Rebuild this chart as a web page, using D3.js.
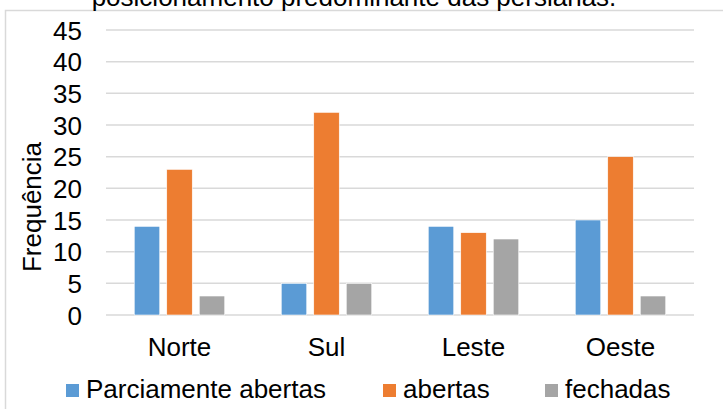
<!DOCTYPE html>
<html>
<head>
<meta charset="utf-8">
<script src="https://cdn.jsdelivr.net/npm/d3@7"></script>
<style>
  html, body { margin: 0; padding: 0; background: #fff; }
  svg { display: block; font-family: "Liberation Sans", Arial, sans-serif; }
</style>
</head>
<body>
<svg id="chart" width="723" height="409"></svg>
<script>
const categories = ["Norte", "Sul", "Leste", "Oeste"];
const seriesNames = ["Parciamente abertas", "abertas", "fechadas"];
const parciamenteAbertas = [14, 5, 14, 15];
const abertas = [23, 32, 13, 25];
const fechadas = [3, 5, 12, 3];
const yTicks = [0, 5, 10, 15, 20, 25, 30, 35, 40, 45];
const colors = ["#5b9bd5", "#ed7d31", "#a5a5a5"];
const titleText = "posicionamento predominante das persianas.";
const yTitle = "Frequência";

const seriesValues = [parciamenteAbertas, abertas, fechadas];
const data = categories.map((c, i) => ({
  cat: c,
  vals: seriesNames.map((s, j) => ({ s, v: seriesValues[j][i], j }))
}));

const svg = d3.select("#chart");
const fs = 26;

// chart frame
svg.append("rect")
  .attr("x", 5.5).attr("y", 10.5)
  .attr("width", 800).attr("height", 500)
  .attr("fill", "none").attr("stroke", "#d9d9d9").attr("stroke-width", 1.5);

// title (clipped at top, as in the reference)
svg.append("text")
  .attr("x", 354).attr("y", 6)
  .attr("text-anchor", "middle")
  .attr("font-size", fs).attr("fill", "#000")
  .text(titleText);

const x0 = d3.scaleBand().domain(categories).range([106, 694]).paddingInner(0).paddingOuter(0);
const x1 = d3.scaleBand().domain(seriesNames).range([0, x0.bandwidth()])
  .paddingInner(0.215).paddingOuter(0.869);
const y = d3.scaleLinear().domain([0, 45]).range([315, 30]);

// gridlines
svg.append("g").selectAll("line").data(yTicks).join("line")
  .attr("x1", 106).attr("x2", 694)
  .attr("y1", d => y(d)).attr("y2", d => y(d))
  .attr("stroke", "#d9d9d9").attr("stroke-width", 1.5);

// y tick labels
svg.append("g").selectAll("text").data(yTicks).join("text")
  .attr("x", 82).attr("y", d => y(d) + 9.5)
  .attr("text-anchor", "end")
  .attr("font-size", fs).attr("fill", "#000")
  .text(d => d);

// y axis title
svg.append("text")
  .attr("transform", "translate(41,207) rotate(-90)")
  .attr("text-anchor", "middle")
  .attr("font-size", fs).attr("fill", "#000")
  .text(yTitle);

// bars
const g = svg.append("g").selectAll("g").data(data).join("g")
  .attr("transform", d => `translate(${x0(d.cat)},0)`);
g.selectAll("rect").data(d => d.vals).join("rect")
  .attr("x", d => x1(d.s))
  .attr("width", x1.bandwidth())
  .attr("y", d => y(d.v))
  .attr("height", d => y(0) - y(d.v))
  .attr("fill", d => colors[d.j])
  .attr("stroke", "#fff").attr("stroke-width", 0.6);

// x labels
svg.append("g").selectAll("text").data(categories).join("text")
  .attr("x", d => x0(d) + x0.bandwidth() / 2)
  .attr("y", 356)
  .attr("text-anchor", "middle")
  .attr("font-size", fs).attr("fill", "#000")
  .text(d => d);

// legend
const legendX = [66, 383, 545];
const lg = svg.append("g").selectAll("g").data(seriesNames).join("g")
  .attr("transform", (d, i) => `translate(${legendX[i]},0)`);
lg.append("rect")
  .attr("x", 0).attr("y", 384).attr("width", 13).attr("height", 13)
  .attr("fill", (d, i) => colors[i]);
lg.append("text")
  .attr("x", 20).attr("y", 398)
  .attr("font-size", fs).attr("fill", "#000")
  .text(d => d);
</script>
</body>
</html>
